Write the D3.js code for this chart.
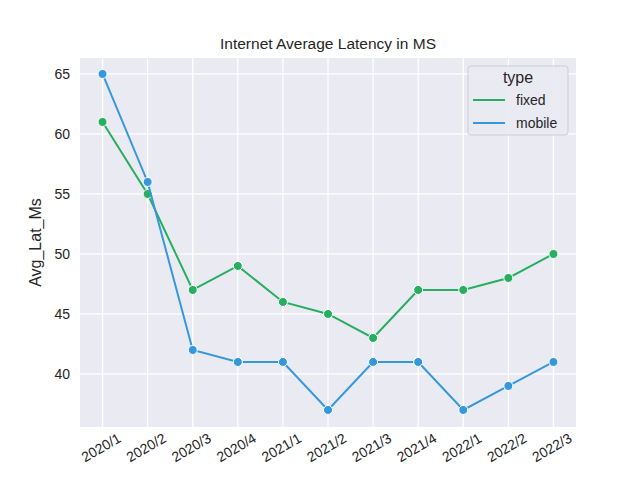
<!DOCTYPE html>
<html><head><meta charset="utf-8">
<script src="https://cdn.jsdelivr.net/npm/d3@7"></script>
<style>body{margin:0;background:#fff}text{font-family:"Liberation Sans",Arial,sans-serif;fill:#262626}</style>
</head><body><div id="chart"></div>
<script>
const quarters = ["2020/1","2020/2","2020/3","2020/4","2021/1","2021/2","2021/3","2021/4","2022/1","2022/2","2022/3"];
const fixed = [61,55,47,49,46,45,43,47,47,48,50];
const mobile = [65,56,42,41,41,37,41,41,37,39,41];
const yTicks = [40,45,50,55,60,65];

var svg = d3.select("#chart").append("svg").attr("width",640).attr("height",480);
var L=80,R=576,T=58,B=427;
var x = d3.scalePoint().domain(quarters).range([L,R]).padding(0.5);
var y = d3.scaleLinear().domain([35.58,66.33]).range([B,T]);

svg.append("rect").attr("x",L).attr("y",T).attr("width",R-L).attr("height",B-T).attr("fill","#eaeaf2");
// grid
svg.selectAll(".gx").data(quarters).enter().append("line")
  .attr("x1",d=>x(d)).attr("x2",d=>x(d)).attr("y1",T).attr("y2",B).attr("stroke","#fff").attr("stroke-width",1.2);
svg.selectAll(".gy").data(yTicks).enter().append("line")
  .attr("y1",d=>y(d)).attr("y2",d=>y(d)).attr("x1",L).attr("x2",R).attr("stroke","#fff").attr("stroke-width",1.2);

// axes
var xa = svg.append("g").attr("transform","translate(0,"+B+")").call(d3.axisBottom(x).tickSize(0).tickPadding(0));
xa.select(".domain").remove();
xa.selectAll("text").attr("font-size",14).attr("text-anchor","end").attr("dy",0).attr("y",0)
  .attr("transform","translate(19,14) rotate(-30)").style("font-family","Liberation Sans, Arial, sans-serif");
var ya = svg.append("g").attr("transform","translate("+L+",0)").call(d3.axisLeft(y).tickValues(yTicks).tickSize(0).tickPadding(10));
ya.select(".domain").remove();
ya.selectAll("text").attr("font-size",14).style("font-family","Liberation Sans, Arial, sans-serif");

svg.append("text").attr("transform","translate(41,"+((T+B)/2)+") rotate(-90)")
  .attr("text-anchor","middle").attr("font-size",16).text("Avg_Lat_Ms");
svg.append("text").attr("x",(L+R)/2).attr("y",T-9).attr("text-anchor","middle").attr("font-size",15.5).text("Internet Average Latency in MS");

var series = [{name:"fixed",vals:fixed,color:"#27ae60"},{name:"mobile",vals:mobile,color:"#3498db"}];
var line = d3.line().x((d,i)=>x(quarters[i])).y(d=>y(d));
series.forEach(function(s){
  svg.append("path").datum(s.vals).attr("d",line).attr("fill","none").attr("stroke",s.color).attr("stroke-width",2);
  svg.selectAll(null).data(s.vals).enter().append("circle")
    .attr("cx",(d,i)=>x(quarters[i])).attr("cy",d=>y(d)).attr("r",4.5)
    .attr("fill",s.color).attr("stroke","#fff").attr("stroke-width",1);
});

// legend
var lg = svg.append("g").attr("transform","translate(468,66)");
lg.append("rect").attr("width",100).attr("height",69).attr("rx",3).attr("fill","#eaeaf2").attr("stroke","#cccccc").attr("opacity",0.9);
lg.append("text").attr("x",50).attr("y",17).attr("text-anchor","middle").attr("font-size",16).text("type");
series.forEach(function(s,i){
  var yy = 34+i*23;
  lg.append("line").attr("x1",5).attr("x2",37).attr("y1",yy).attr("y2",yy).attr("stroke",s.color).attr("stroke-width",2);
  lg.append("text").attr("x",48).attr("y",yy+5).attr("font-size",14).text(s.name);
});
</script></body></html>
